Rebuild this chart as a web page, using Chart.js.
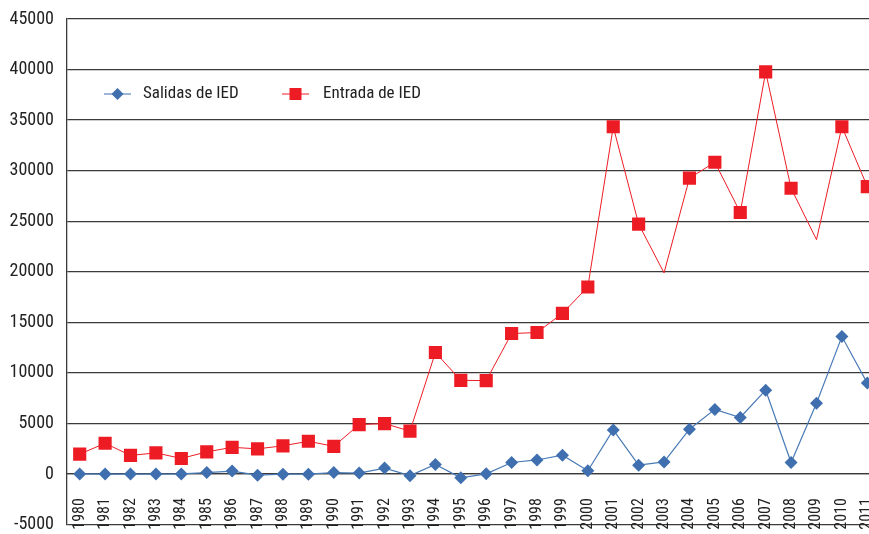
<!DOCTYPE html>
<html>
<head>
<meta charset="utf-8">
<script src="https://cdn.jsdelivr.net/npm/chart.js@4.4.0/dist/chart.umd.min.js"></script>
<style>
  html, body { margin: 0; padding: 0; background: #fff; overflow: hidden; }
  canvas { display: block; }
</style>
</head>
<body>
<canvas id="fdi" width="890" height="534"></canvas>
<script>
// Years on the x axis
const years = ["1980", "1981", "1982", "1983", "1984", "1985", "1986", "1987", "1988", "1989",
  "1990", "1991", "1992", "1993", "1994", "1995", "1996", "1997", "1998", "1999",
  "2000", "2001", "2002", "2003", "2004", "2005", "2006", "2007", "2008", "2009",
  "2010", "2011"];

// Outward FDI (Salidas de IED)
const salidas = [20, 10, 10, 10, 20, 150, 300, -100, 0, 0,
  150, 100, 600, -150, 950, -360, 30, 1150, 1400, 1870,
  330, 4370, 890, 1210, 4440, 6400, 5600, 8300, 1150, 7000,
  13600, 9000];

// Inward FDI (Entrada de IED)
const entradas = [1980, 3050, 1850, 2100, 1550, 2200, 2650, 2500, 2800, 3250,
  2750, 4900, 5000, 4250, 12030, 9270, 9250, 13900, 14000, 15900,
  18500, 34350, 24720, 19900, 29260, 30840, 25870, 39770, 28270, 23180,
  34350, 28430];

// y axis range and step
const yMin = -5000;
const yMax = 45000;
const yStep = 5000;

// years where the inflow line has no marker in the original
const noMarkerYears = ["2003", "2009"];

const FONT = '"Liberation Sans Narrow", "Roboto Condensed", "DejaVu Sans Condensed", "Liberation Sans", sans-serif';
const BLUE = "#3f6fae";
const RED = "#ed1c24";

// legend drawn inside the plot, like the original
const innerLegend = {
  id: "innerLegend",
  afterDraw(chart) {
    const ctx = chart.ctx;
    const y = 94;
    ctx.save();
    ctx.lineWidth = 1;

    // Salidas
    ctx.strokeStyle = BLUE;
    ctx.beginPath(); ctx.moveTo(104, y); ctx.lineTo(131, y); ctx.stroke();
    ctx.fillStyle = BLUE;
    ctx.beginPath();
    ctx.moveTo(117.5, y - 6); ctx.lineTo(123.5, y); ctx.lineTo(117.5, y + 6); ctx.lineTo(111.5, y);
    ctx.closePath(); ctx.fill();

    // Entrada
    ctx.strokeStyle = RED;
    ctx.beginPath(); ctx.moveTo(282, y); ctx.lineTo(309, y); ctx.stroke();
    ctx.fillStyle = RED;
    ctx.fillRect(289.5, y - 6, 12, 12);

    ctx.fillStyle = "#222";
    ctx.font = "17px " + FONT;
    ctx.textBaseline = "middle";
    ctx.fillText("Salidas de IED", 143, y);
    ctx.fillText("Entrada de IED", 323, y);
    ctx.restore();
  }
};

new Chart(document.getElementById("fdi"), {
  type: "line",
  data: {
    labels: years,
    datasets: [
      {
        label: "Salidas de IED",
        data: salidas,
        borderColor: "#4a7bb7",
        backgroundColor: BLUE,
        borderWidth: 1.2,
        pointStyle: "rectRot",
        pointRadius: 6.5,
        pointBorderWidth: 0,
        pointBackgroundColor: BLUE,
        tension: 0,
      },
      {
        label: "Entrada de IED",
        data: entradas,
        borderColor: RED,
        backgroundColor: RED,
        borderWidth: 1,
        pointStyle: "rect",
        pointRadius: (c) => noMarkerYears.includes(years[c.dataIndex]) ? 0 : 9.3,
        pointBorderWidth: 0,
        pointBackgroundColor: RED,
        tension: 0,
      },
    ],
  },
  options: {
    responsive: false,
    animation: false,
    layout: { padding: { top: 19, right: 10, bottom: 8, left: 0 } },
    plugins: {
      legend: { display: false },
      tooltip: { enabled: false },
    },
    scales: {
      x: {
        position: { y: 0 },
        offset: true,
        afterFit: (scale) => {
          scale.height = 0;
          scale.paddingLeft = scale.paddingRight = scale.paddingTop = scale.paddingBottom = 0;
        },
        grid: { display: false, drawTicks: false, offset: true },
        border: { display: true, color: "#3a3a3a", width: 1.3 },
        ticks: {
          minRotation: 90,
          maxRotation: 90,
          autoSkip: false,
          padding: 24,
          color: "#222",
          font: { family: FONT, size: 16 },
        },
      },
      y: {
        min: yMin,
        max: yMax,
        afterFit: (scale) => {
          scale.width = 67;
          scale.paddingLeft = scale.paddingRight = scale.paddingTop = scale.paddingBottom = 0;
        },
        grid: { color: "#3a3a3a", lineWidth: 1.3, drawTicks: false },
        border: { display: true, color: "#3a3a3a", width: 1.3 },
        ticks: {
          stepSize: yStep,
          padding: 13,
          color: "#222",
          font: { family: FONT, size: 18 },
          callback: (v) => String(v),
        },
      },
    },
  },
  plugins: [innerLegend],
});
</script>
</body>
</html>
